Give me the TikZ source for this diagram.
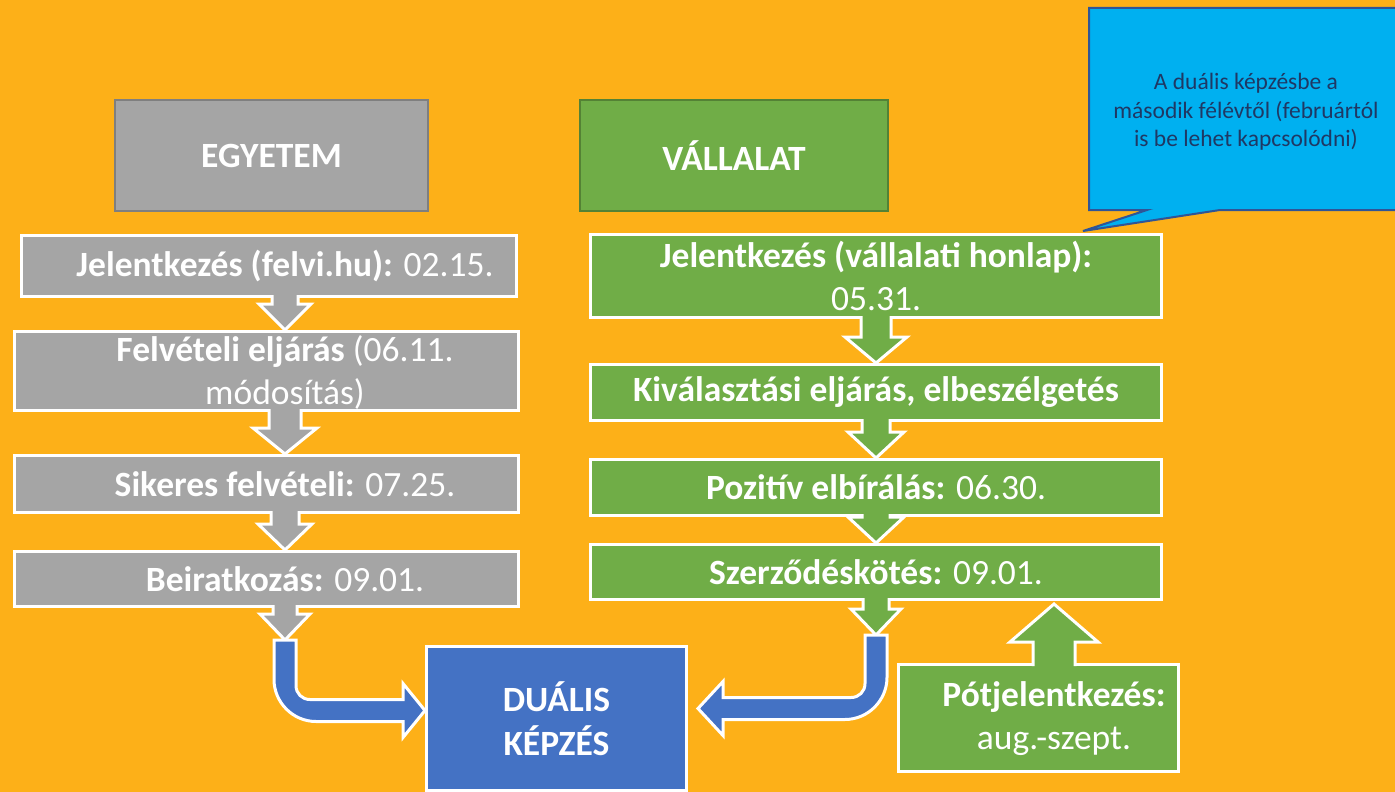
\documentclass[tikz,border=0pt]{standalone}
\usepackage{fontspec}
\setmainfont{Carlito}
\usetikzlibrary{calc}
\definecolor{bgorange}{RGB}{253,176,24}
\definecolor{boxgray}{RGB}{165,165,165}
\definecolor{edgegray}{RGB}{127,127,127}
\definecolor{boxgreen}{RGB}{112,173,71}
\definecolor{edgegreen}{RGB}{84,130,53}
\definecolor{boxblue}{RGB}{68,114,196}
\definecolor{calloutblue}{RGB}{0,176,240}
\definecolor{calloutedge}{RGB}{47,85,151}
\definecolor{callouttext}{RGB}{31,56,100}
\tikzset{
  flowbox/.style={draw=white, line width=3pt, text=white, align=center, inner sep=0pt,
    font=\fontsize{35.5}{43}\selectfont},
  unibox/.style={flowbox, fill=boxgray},
  firmbox/.style={flowbox, fill=boxgreen},
  boxtext/.style={text=white, align=center, inner sep=0pt, font=\fontsize{35.5}{43}\selectfont},
  headbox/.style={line width=2pt, text=white, inner sep=0pt, font=\bfseries\fontsize{35.5}{43}\selectfont},
  blockdown/.style={draw=white, line width=3pt},
  bentarrow/.style={fill=boxblue, draw=white, line width=3pt},
  calloutbox/.style={fill=calloutblue, draw=calloutedge, line width=2pt},
}
% down block arrow: from node, tip point, x reference, fill, half shaft, half head
\newcommand\downblock[6]{%
  \draw[blockdown, fill=#4] let \p1=(#3 |- #1.south), \p2=(#3 |- #2) in
    (\x1-#5pt,\y1+3pt) -- (\x1-#5pt,\y2+26pt) -- (\x1-#6pt,\y2+26pt) -- (\x2,\y2)
    -- (\x1+#6pt,\y2+26pt) -- (\x1+#5pt,\y2+26pt) -- (\x1+#5pt,\y1+3pt);}
\begin{document}
\begin{tikzpicture}[x=1pt, y=-1pt]
\useasboundingbox (0,0) rectangle (1395,792);
\clip (0,0) rectangle (1395,792);
\fill[bgorange] (0,0) rectangle (1395,792);

% headers
\node[headbox, fill=boxgray, draw=edgegray, minimum width=313pt, minimum height=111pt] (uni) at (271.5,155.5) {EGYETEM};
\node[headbox, fill=boxgreen, draw=edgegreen, minimum width=308pt, minimum height=111pt] (firm) at (734,155.5) {VÁLLALAT};

% note
\draw[calloutbox] (1089,8) -- (1404,8) -- (1404,210) -- (1220,210) -- (1083,231) -- (1147,210) -- (1089,210) -- cycle;
\node[text=callouttext, align=center, font=\fontsize{23.5}{28.5}\selectfont] (note) at (1246,112)
  {A duális képzésbe a\\második félévtől (februártól\\is be lehet kapcsolódni)};

% egyetem
\node[unibox, minimum width=495pt, minimum height=61pt] (l1) at (269,266) {};
\node[unibox, minimum width=504pt, minimum height=79pt] (l2) at (266.5,371) {};
\node[unibox, minimum width=504pt, minimum height=57pt] (l3) at (266.5,484) {};
\node[unibox, minimum width=504pt, minimum height=55pt] (l4) at (266.5,579) {};
\node[boxtext] (l1t) at (285,266) {\textbf{Jelentkezés (felvi.hu):} 02.15.};
\node[boxtext] (l2t) at (285,372) {\textbf{Felvételi eljárás} (06.11.\\módosítás)};
\node[boxtext] (l3t) at (285,484) {\textbf{Sikeres felvételi:} 07.25.};
\node[boxtext] (l4t) at (285,579) {\textbf{Beiratkozás:} 09.01.};

% vallalat
\node[firmbox, minimum width=571pt, minimum height=83pt] (r1) at (876,276) {\textbf{Jelentkezés (vállalati honlap):}\\05.31.};
\node[firmbox, minimum width=571pt, minimum height=56pt] (r2) at (876,392.5) {\textbf{Kiválasztási eljárás, elbeszélgetés}};
\node[firmbox, minimum width=571pt, minimum height=56pt] (r3) at (876,487.5) {\textbf{Pozitív elbírálás:} 06.30.};
\node[firmbox, minimum width=571pt, minimum height=55pt] (r4) at (876,572) {\textbf{Szerződéskötés:} 09.01.};
\node[firmbox, minimum width=280pt, minimum height=107pt] (pot) at (1038.5,718) {};
\node[boxtext] (pott) at (1054,719) {\textbf{Pótjelentkezés:}\\aug.-szept.};

% dual
\node[flowbox, fill=boxblue, font=\bfseries\fontsize{35.5}{44}\selectfont, minimum width=260pt, minimum height=144pt] (dual) at (556.5,718.5) {DUÁLIS\\KÉPZÉS};

\coordinate (lbend) at (285,640);
\coordinate (rbend) at (876,635);
\coordinate (lin) at ($(dual.west)+(0,-8)$);
\coordinate (rin) at ($(dual.east)+(10,-10)$);
\coordinate (lcorner) at (lbend |- lin);
\coordinate (rcorner) at (rbend |- rin);

% steps
\downblock{l1}{l2.north}{l1t}{boxgray}{13}{26}
\downblock{l2}{l3.north}{l1t}{boxgray}{16}{32}
\downblock{l3}{l4.north}{l1t}{boxgray}{14}{27}
\downblock{l4}{lbend}{l1t}{boxgray}{12}{25}
\downblock{r1}{r2.north}{r1}{boxgreen}{15}{31}
\downblock{r2}{r3.north}{r1}{boxgreen}{14}{28}
\downblock{r3}{r4.north}{r1}{boxgreen}{14}{28}
\downblock{r4}{rbend}{r1}{boxgreen}{13}{25}
\draw[blockdown, fill=boxgreen] let \p1=(pott |- pot.north), \p2=(pott |- r4.south) in
  (\x1-21pt,\y1-3pt) -- (\x1-21pt,\y2-41pt) -- (\x1-44pt,\y2-41pt) -- (\x2,\y2-3pt)
  -- (\x1+44pt,\y2-41pt) -- (\x1+21pt,\y2-41pt) -- (\x1+21pt,\y1-3pt);

% into dual
\draw[bentarrow] ($(lbend)+(-11,0)$) -- ($(lbend)+(11,0)$) -- ($(lcorner)+(11,-25)$)
  .. controls ($(lcorner)+(11,-17)$) and ($(lcorner)+(17,-11)$) .. ($(lcorner)+(25,-11)$)
  -- ($(lin)+(-22,-11)$) -- ($(lin)+(-22,-27)$) -- (lin) -- ($(lin)+(-22,27)$) -- ($(lin)+(-22,11)$)
  -- ($(lcorner)+(31,11)$) .. controls ($(lcorner)+(8,11)$) and ($(lcorner)+(-11,-8)$) .. ($(lcorner)+(-11,-31)$) -- cycle;
\draw[bentarrow] ($(rbend)+(11,0)$) -- ($(rbend)+(-11,0)$) -- ($(rcorner)+(-11,-25)$)
  .. controls ($(rcorner)+(-11,-17)$) and ($(rcorner)+(-17,-11)$) .. ($(rcorner)+(-25,-11)$)
  -- ($(rin)+(25,-11)$) -- ($(rin)+(25,-27)$) -- (rin) -- ($(rin)+(25,27)$) -- ($(rin)+(25,11)$)
  -- ($(rcorner)+(-31,11)$) .. controls ($(rcorner)+(-8,11)$) and ($(rcorner)+(11,-8)$) .. ($(rcorner)+(11,-31)$) -- cycle;
\end{tikzpicture}
\end{document}
